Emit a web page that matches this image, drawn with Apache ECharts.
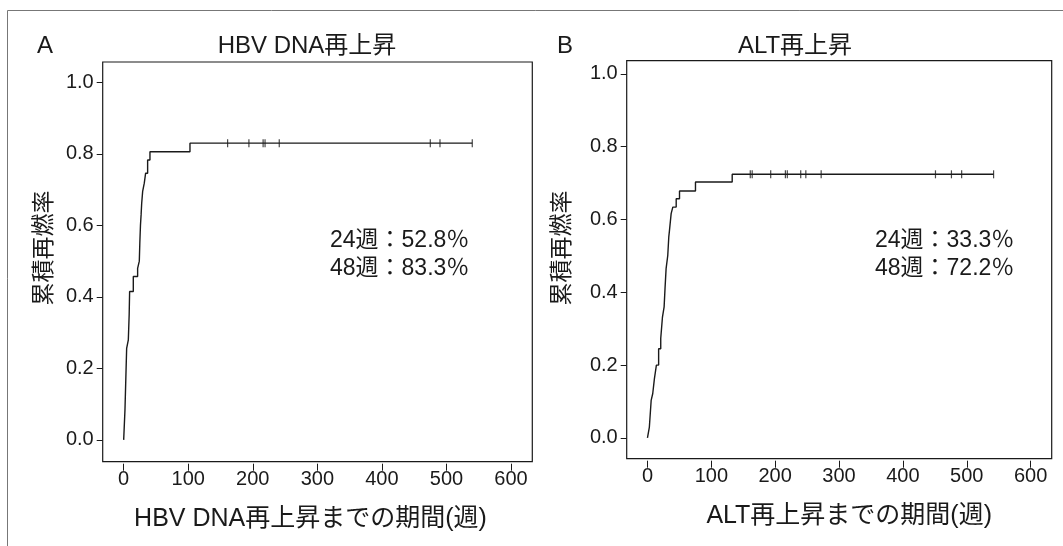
<!DOCTYPE html>
<html>
<head>
<meta charset="utf-8">
<script src="https://cdn.jsdelivr.net/npm/echarts@6/dist/echarts.min.js"></script>
<style>
  html, body { margin: 0; padding: 0; background: #fff; }
  #chart { width: 1063px; height: 546px; }
</style>
</head>
<body>
<div id="chart"></div>
<script>
// panel A: HBV DNA再上昇  [週, 累積再燃率]
let stepsA = [
  [0, 0], [2, 0.084], [3.3, 0.17], [4.6, 0.256], [7.2, 0.28], [8.5, 0.35], [9.2, 0.415],
  [14.9, 0.457], [21.6, 0.48], [24.2, 0.5], [25, 0.55], [26, 0.6], [27, 0.63], [27.9, 0.662],
  [29.4, 0.695], [31.9, 0.718], [34, 0.746], [37.1, 0.783], [40.7, 0.806], [102.7, 0.83],
  [540, 0.83]
];
let censorA = [161, 194, 216, 219, 241, 475, 490, 540];
let levelA = 0.83;

// panel B: ALT再上昇
let stepsB = [
  [0, 0], [3, 0.03], [5.8, 0.103], [8.3, 0.122], [10.9, 0.163], [14, 0.2], [17.5, 0.245],
  [20.8, 0.273], [23.5, 0.332], [26.1, 0.36], [27.5, 0.41], [29.2, 0.465], [31.8, 0.501],
  [33.4, 0.552], [34.5, 0.57], [37.1, 0.616], [39.7, 0.634], [45, 0.657], [50.2, 0.678],
  [75.2, 0.703], [132.7, 0.724], [542, 0.724]
];
let censorB = [161, 164, 193, 216, 219, 240, 248, 272, 451, 476, 492, 542];
let levelB = 0.724;

let xTicks = [0, 100, 200, 300, 400, 500, 600];
let yTicks = [0, 0.2, 0.4, 0.6, 0.8, 1.0];

let titles = ['HBV DNA再上昇', 'ALT再上昇'];
let xNames = ['HBV DNA再上昇までの期間(週)', 'ALT再上昇までの期間(週)'];
let yName = '累積再燃率';
let notesA = ['24週：52.8％', '48週：83.3％'];
let notesB = ['24週：33.3％', '48週：72.2％'];

let latin = '"Liberation Sans", "Noto Sans CJK JP", sans-serif';
let ink = '#1a1a1a';

function xAxisFor(idx, name, pad) {
  return {
    gridIndex: idx,
    type: 'value',
    position: 'bottom',
    min: -32.5,
    max: 633,
    offset: 2,
    splitLine: { show: false },
    axisLine: { show: false, onZero: false },
    axisTick: { show: true, length: 7, customValues: xTicks, lineStyle: { color: ink, width: 1 } },
    axisLabel: { customValues: xTicks, margin: 6, color: ink, fontSize: 20, fontFamily: latin },
    name: name,
    nameLocation: 'middle',
    nameGap: 43,
    nameTextStyle: { color: ink, fontSize: 25, fontFamily: latin, padding: pad }
  };
}

function yAxisFor(idx, min, max) {
  return {
    gridIndex: idx,
    type: 'value',
    position: 'left',
    min: min,
    max: max,
    splitLine: { show: false },
    axisLine: { show: false, onZero: false },
    axisTick: { show: true, length: 6, customValues: yTicks, lineStyle: { color: ink, width: 1 } },
    axisLabel: {
      customValues: yTicks, margin: 9, color: ink, fontSize: 20, fontFamily: latin,
      formatter: function (v) { return v.toFixed(1); }
    }
  };
}

function stepSeries(idx, data) {
  return {
    type: 'line',
    xAxisIndex: idx,
    yAxisIndex: idx,
    step: 'end',
    data: data,
    showSymbol: false,
    animation: false,
    lineStyle: { color: ink, width: 1.4 }
  };
}

function censorSeries(idx, times, level) {
  return {
    type: 'scatter',
    xAxisIndex: idx,
    yAxisIndex: idx,
    data: times.map(function (t) { return [t, level]; }),
    symbol: 'rect',
    symbolSize: [1.2, 8],
    itemStyle: { color: ink },
    animation: false
  };
}

function label(text, x, y, size, align) {
  return {
    type: 'text',
    x: x,
    y: y,
    style: { text: text, font: size + 'px ' + latin, fill: ink, textAlign: align || 'left', textVerticalAlign: 'middle' }
  };
}

let myChart = echarts.init(document.getElementById('chart'));

let option = {
  backgroundColor: '#fff',
  grid: [
    { left: 102.7, top: 62, width: 429.6, height: 399.7, show: true, borderColor: ink, borderWidth: 1.2, backgroundColor: 'transparent' },
    { left: 626.7, top: 60.7, width: 425, height: 398, show: true, borderColor: ink, borderWidth: 1.2, backgroundColor: 'transparent' }
  ],
  xAxis: [
    xAxisFor(0, xNames[0], [0, 14, 0, 0]),
    xAxisFor(1, xNames[1], [0, 0, 0, 20])
  ],
  yAxis: [
    yAxisFor(0, -0.061, 1.057),
    yAxisFor(1, -0.057, 1.036)
  ],
  series: [
    stepSeries(0, stepsA),
    censorSeries(0, censorA, levelA),
    stepSeries(1, stepsB),
    censorSeries(1, censorB, levelB)
  ],
  graphic: [
    // outer frame of the figure
    { type: 'rect', shape: { x: 7.5, y: 10.5, width: 1100, height: 600 }, style: { fill: 'none', stroke: '#777', lineWidth: 1 } },
    label('A', 37, 46, 24),
    label(titles[0], 307, 46, 24, 'center'),
    label('B', 557, 46, 24),
    label(titles[1], 795, 46, 24, 'center'),
    label(notesA[0], 330, 241, 23),
    label(notesA[1], 330, 269, 23),
    label(notesB[0], 875, 241, 23),
    label(notesB[1], 875, 269, 23),
    {
      type: 'text', x: 45, y: 248, rotation: Math.PI / 2,
      style: { text: yName, font: '23px ' + latin, fill: ink, textAlign: 'center', textVerticalAlign: 'middle' }
    },
    {
      type: 'text', x: 563, y: 248, rotation: Math.PI / 2,
      style: { text: yName, font: '23px ' + latin, fill: ink, textAlign: 'center', textVerticalAlign: 'middle' }
    }
  ]
};

myChart.setOption(option);
</script>
</body>
</html>
